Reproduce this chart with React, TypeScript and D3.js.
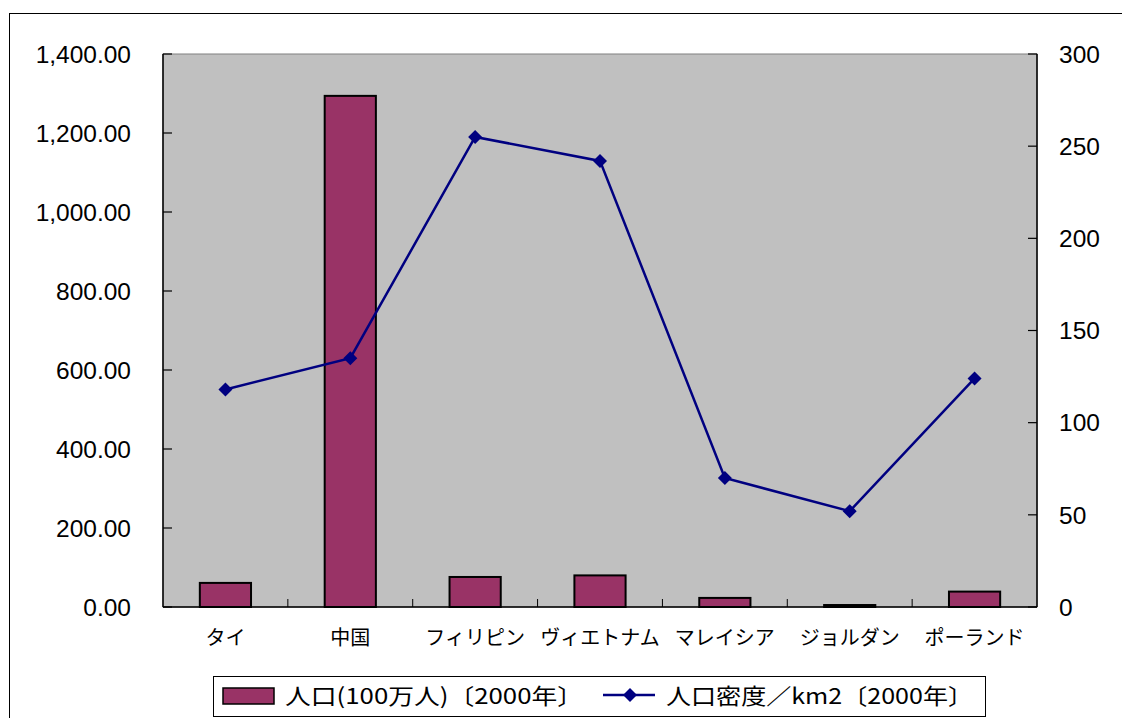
import React from "react";
import * as d3 from "d3";

const categories = ["タイ", "中国", "フィリピン", "ヴィエトナム", "マレイシア", "ジョルダン", "ポーランド"];
const population = [61, 1294, 76, 80, 23, 5, 39];
const density = [118, 135, 255, 242, 70, 52, 124];
const leftTicks = [0, 200, 400, 600, 800, 1000, 1200, 1400];
const rightTicks = [0, 50, 100, 150, 200, 250, 300];
const legendBar = "人口(100万人)〔2000年〕";
const legendLine = "人口密度／km2〔2000年〕";

const W = 1122, H = 718;
const L = 163, R = 1037, T = 54, B = 607;
const jp = "'Noto Sans CJK JP', sans-serif";
const num = "'Liberation Sans', Arial, sans-serif";

export default function App() {
  const x = d3.scaleBand().domain(categories).range([L, R]).paddingInner(0).paddingOuter(0);
  const yL = d3.scaleLinear().domain([0, 1400]).range([B, T]);
  const yR = d3.scaleLinear().domain([0, 300]).range([B, T]);
  const barW = x.bandwidth() * 0.41;
  const line = d3.line<number>().x((_, i) => x(categories[i])! + x.bandwidth() / 2).y((d) => yR(d));
  const fmt = d3.format(",.2f");
  const diamond = (cx: number, cy: number, r: number) => `M${cx},${cy - r}L${cx + r},${cy}L${cx},${cy + r}L${cx - r},${cy}Z`;

  return (
    <svg width={W} height={H} style={{ position: "absolute", left: 0, top: 0 }}>
      <rect x={0} y={0} width={W} height={H} fill="#fff" />
      <rect x={9.5} y={13.5} width={1140} height={720} fill="#fff" stroke="#000" strokeWidth={1} />
      <rect x={L} y={T} width={R - L} height={B - T} fill="#C0C0C0" stroke="#808080" strokeWidth={1} />
      {categories.map((c, i) => (
        <rect key={c} x={x(c)! + (x.bandwidth() - barW) / 2} y={yL(population[i])} width={barW} height={B - yL(population[i])}
          fill="#993366" stroke="#000" strokeWidth={2} />
      ))}
      <line x1={L} x2={L} y1={T} y2={B} stroke="#000" strokeWidth={1.5} />
      <line x1={R} x2={R} y1={T} y2={B} stroke="#000" strokeWidth={1.5} />
      <line x1={L} x2={R} y1={B} y2={B} stroke="#000" strokeWidth={1.5} />
      {leftTicks.map((t) => (
        <g key={t}>
          <line x1={L} x2={L + 9} y1={yL(t)} y2={yL(t)} stroke="#000" strokeWidth={1.2} />
          <text x={131} y={yL(t)} dy="0.36em" textAnchor="end" fontFamily={num} fontSize={24.5}>{fmt(t)}</text>
        </g>
      ))}
      {rightTicks.map((t) => (
        <g key={t}>
          <line x1={R - 9} x2={R} y1={yR(t)} y2={yR(t)} stroke="#000" strokeWidth={1.2} />
          <text x={1059} y={yR(t)} dy="0.36em" textAnchor="start" fontFamily={num} fontSize={24.5}>{t}</text>
        </g>
      ))}
      {categories.slice(1).map((c) => (
        <line key={c} x1={x(c)!} x2={x(c)!} y1={B} y2={B - 8} stroke="#000" strokeWidth={1} />
      ))}
      {categories.map((c) => (
        <text key={c} x={x(c)! + x.bandwidth() / 2} y={645} textAnchor="middle" fontFamily={jp} fontSize={20}>{c}</text>
      ))}
      <path d={line(density) ?? ""} fill="none" stroke="#000080" strokeWidth={2.5} />
      {density.map((d, i) => (
        <path key={i} d={diamond(x(categories[i])! + x.bandwidth() / 2, yR(d), 7)} fill="#000080" />
      ))}
      <rect x={213.5} y={676.5} width={772} height={40} fill="#fff" stroke="#000" strokeWidth={1} />
      <rect x={223} y={688} width={51} height={16} fill="#993366" stroke="#000" strokeWidth={1.5} />
      <text x={285} y={704} fontFamily={jp} fontSize={22} textLength={298} lengthAdjust="spacingAndGlyphs">{legendBar}</text>
      <line x1={603} x2={655} y1={695} y2={695} stroke="#000080" strokeWidth={2.5} />
      <path d={diamond(630, 695, 7)} fill="#000080" />
      <text x={666} y={704} fontFamily={jp} fontSize={22} textLength={307} lengthAdjust="spacingAndGlyphs">{legendLine}</text>
    </svg>
  );
}
